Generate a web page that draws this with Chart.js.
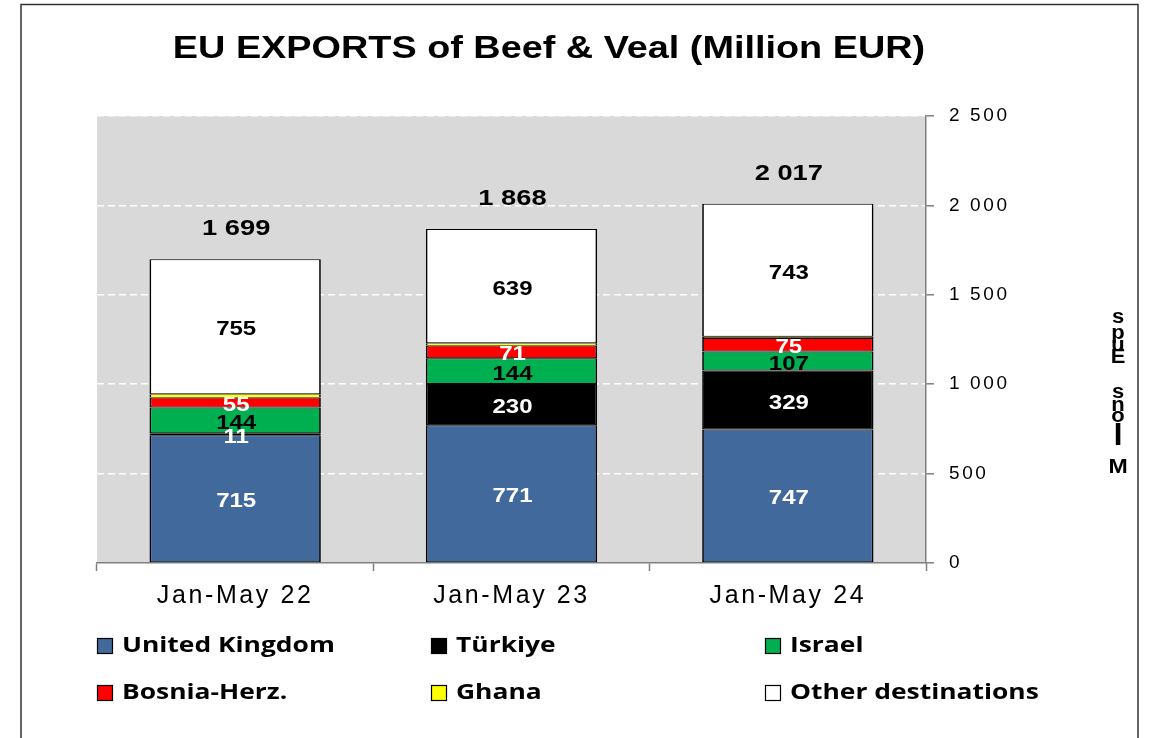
<!DOCTYPE html>
<html>
<head>
<meta charset="utf-8">
<script src="https://cdn.jsdelivr.net/npm/chart.js@4.4.1/dist/chart.umd.min.js"></script>
<style>
html,body{margin:0;padding:0;background:#fff;}
#wrap{width:1152px;height:738px;position:relative;}
</style>
</head>
<body>
<div id="wrap"><canvas id="c" width="1152" height="738"></canvas></div>
<script>
// ---- data ----
const categories = ['Jan-May 22', 'Jan-May 23', 'Jan-May 24'];
const unitedKingdom = [715, 771, 747];
const turkiye = [11, 230, 329];
const israel = [144, 144, 107];
const bosniaHerz = [55, 71, 75];
const ghana = [19, 13, 8];
const otherDestinations = [755, 639, 743];
const totals = ['1 699', '1 868', '2 017'];
const yTickLabels = ['0', '500', '1 000', '1 500', '2 000', '2 500'];
const seriesNames = ['United Kingdom', 'Türkiye', 'Israel', 'Bosnia-Herz.', 'Ghana', 'Other destinations'];
const chartTitle = 'EU EXPORTS of Beef & Veal (Million EUR)';
const axisTitleGlyphs = ['s', 'p', 'u', 'E', 's', 'n', 'o', 'l', 'M'];

const colors = ['#41699c', '#000000', '#00b050', '#ff0000', '#ffff00', '#ffffff'];
const labelColors = ['#ffffff', '#ffffff', '#000000', '#ffffff', null, '#000000'];
const seriesValues = [unitedKingdom, turkiye, israel, bosniaHerz, ghana, otherDestinations];

const datasets = seriesValues.map((vals, i) => ({
  label: seriesNames[i],
  data: vals,
  backgroundColor: colors[i],
  borderColor: '#000000',
  borderWidth: i === 4 ? {top: 0.6, bottom: 0.6, left: 1.7, right: 1.7}
                       : {top: 1, bottom: 1, left: 1.7, right: 1.7},
  borderSkipped: false,
  barPercentage: 0.62,
  categoryPercentage: 1.0
}));

const W = 1152, H = 738;
const FONT = '"Liberation Sans", Arial, sans-serif';

function stretchText(ctx, text, x, y, sx, align) {
  ctx.save();
  ctx.translate(x, y);
  ctx.scale(sx, 1);
  ctx.textAlign = align || 'center';
  ctx.fillText(text, 0, 0);
  ctx.restore();
}

const decorPlugin = {
  id: 'decor',
  beforeDraw(chart) {
    const ctx = chart.ctx, a = chart.chartArea;
    ctx.save();
    ctx.fillStyle = '#ffffff';
    ctx.fillRect(0, 0, W, H);
    ctx.fillStyle = '#d9d9d9';
    ctx.fillRect(a.left, a.top, a.right - a.left, a.bottom - a.top);
    ctx.strokeStyle = '#333333';
    ctx.lineWidth = 1.5;
    ctx.strokeRect(21, 4.5, 1117, 760);
    ctx.restore();
    ctx.letterSpacing = '2.6px';
  },
  afterDatasetsDraw(chart) {
    const ctx = chart.ctx;
    ctx.save();
    ctx.letterSpacing = '0px';
    ctx.textBaseline = 'middle';
    ctx.font = 'bold 20px ' + FONT;
    chart.data.datasets.forEach((ds, di) => {
      if (!labelColors[di]) return;
      const meta = chart.getDatasetMeta(di);
      meta.data.forEach((bar, i) => {
        const cy = (bar.y + bar.base) / 2;
        ctx.fillStyle = labelColors[di];
        stretchText(ctx, String(ds.data[i]), bar.x + 1, cy + 3, 1.2);
      });
    });
    ctx.font = 'bold 22px ' + FONT;
    ctx.fillStyle = '#000000';
    const lastMeta = chart.getDatasetMeta(chart.data.datasets.length - 1);
    lastMeta.data.forEach((bar, i) => {
      stretchText(ctx, totals[i], bar.x + 1, bar.y - 30, 1.24);
    });
    ctx.restore();
  },
  afterDraw(chart) {
    const ctx = chart.ctx;
    ctx.save();
    ctx.letterSpacing = '0px';
    ctx.fillStyle = '#000000';
    ctx.textBaseline = 'middle';
    // title
    ctx.font = 'bold 31px ' + FONT;
    stretchText(ctx, chartTitle, 549, 49, 1.22);
    // stacked axis title glyphs
    const ys = [317, 333, 345, 357, 392, 405, 416, 437, 467];
    axisTitleGlyphs.forEach((g, i) => {
      if (g === 'l') ctx.font = 'bold 30px ' + FONT;
      else if (g === 'M') ctx.font = 'bold 21px ' + FONT;
      else ctx.font = 'bold 20px ' + FONT;
      stretchText(ctx, g, 1118, ys[i], 1.1);
    });
    // legend
    const colX = [97, 431, 765];
    const rowY = [646, 693];
    ctx.font = 'bold 22px "Open Sans", Lato, sans-serif';
    chart.data.datasets.forEach((ds, i) => {
      const x = colX[i % 3], y = rowY[Math.floor(i / 3)];
      ctx.fillStyle = ds.backgroundColor;
      ctx.fillRect(x, y - 8, 16, 16);
      ctx.strokeStyle = '#000000';
      ctx.lineWidth = 1.2;
      ctx.strokeRect(x + 0.5, y - 7.5, 15, 15);
      ctx.fillStyle = '#000000';
      stretchText(ctx, ds.label, x + 25, y, 1.2, 'left');
    });
    ctx.restore();
  }
};

new Chart(document.getElementById('c'), {
  type: 'bar',
  data: { labels: categories, datasets },
  options: {
    responsive: false,
    animation: false,
    devicePixelRatio: 1,
    layout: { padding: { left: 97, top: 116, right: 0, bottom: 0 } },
    plugins: { legend: { display: false }, title: { display: false }, tooltip: { enabled: false } },
    scales: {
      x: {
        stacked: true,
        offset: true,
        afterFit(s) { s.height = 738 - 563; },
        grid: {
          offset: true,
          drawOnChartArea: false,
          drawTicks: true,
          tickLength: 8,
          tickColor: '#7f7f7f',
          tickWidth: 1.5
        },
        border: { display: true, color: '#7f7f7f', width: 1.5 },
        ticks: {
          color: '#000000',
          font: { family: FONT, size: 25 },
          padding: 10,
          maxRotation: 0
        }
      },
      y: {
        stacked: true,
        position: 'right',
        min: 0,
        max: 2500,
        afterFit(s) { s.width = 1152 - 926; },
        grid: {
          color: (c) => (c.tick && c.tick.value === 0) ? 'rgba(0,0,0,0)' : '#ffffff',
          lineWidth: 1.6,
          drawTicks: true,
          tickLength: 8,
          tickColor: '#7f7f7f',
          tickWidth: 1.5,
          tickBorderDash: []
        },
        border: { display: true, color: '#7f7f7f', width: 1.5, dash: [7, 4] },
        ticks: {
          stepSize: 500,
          color: '#000000',
          font: { family: FONT, size: 19 },
          padding: 15,
          callback: (v, i) => yTickLabels[i]
        }
      }
    }
  },
  plugins: [decorPlugin]
});
</script>
</body>
</html>
